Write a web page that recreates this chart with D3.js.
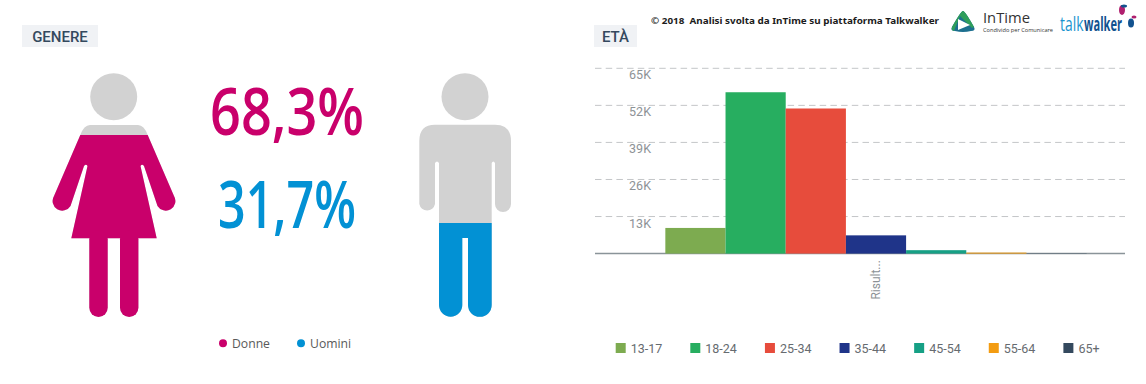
<!DOCTYPE html>
<html>
<head>
<meta charset="utf-8">
<script src="https://cdn.jsdelivr.net/npm/d3@7"></script>
<style>
	html, body { margin:0; padding:0; background:#fff; }
	svg { display:block; }
</style>
</head>
<body>
<div id="chart"></div>
<script>
//data
const genderNames = ["Donne","Uomini"];
const genderValues = [68.3,31.7];
const genderLabels = ["68,3%","31,7%"];
const genderColors = ["#c9006b","#0291d4"];

const ageGroups = ["13-17","18-24","25-34","35-44","45-54","55-64","65+"];
const ageValues = [9000,56600,50900,6400,1200,350,100];
const ageColors = ["#7dab50","#27ae60","#e74c3c","#1f3489","#16a085","#f39c12","#34495e"];
const ageTicks = [13000,26000,39000,52000,65000];
const ageCategory = ["Risult..."];

const width = 1146, height = 384;

const svg = d3.select("#chart")
	.append("svg")
	.attr("width", width)
	.attr("height", height);

const defs = svg.append("defs");

//section titles
function title(x, w, label){
	svg.append("rect").attr("x", x).attr("y", 25).attr("width", w).attr("height", 22).attr("fill", "#f0f2f5");
	svg.append("text")
		.attr("x", x+w/2).attr("y", 41.5)
		.attr("text-anchor", "middle")
		.attr("font-family", "Roboto").attr("font-weight", 500).attr("font-size", 15)
		.attr("fill", "#34495e")
		.text(label);
}
title(22, 76, "GENERE");
title(594, 43, "ETÀ");

//fill level of the two figures
const levelScale = d3.scaleLinear().domain([0,100]).range([299,59]);

function woman(g){
	g.append("circle").attr("cx", 113.7).attr("cy", 96.7).attr("r", 23.5);
	g.append("path").attr("d",
		"M90,125 H138 Q144,125 147.7,135 L174,196 A9.3,9.3 0 0 1 157.5,206 L144,166 Q142,163.5 140.5,166 L156.7,238.3 "
		+"H71.3 L87.5,166 Q86,163.5 84,166 L70.5,206 A9.3,9.3 0 0 1 54,196 L80.3,135 Q84,125 90,125 Z");
	g.append("rect").attr("x", 89.3).attr("y", 230).attr("width", 18.4).attr("height", 87).attr("rx", 9.2);
	g.append("rect").attr("x", 120).attr("y", 230).attr("width", 18.4).attr("height", 87).attr("rx", 9.2);
}

function man(g){
	g.append("circle").attr("cx", 465).attr("cy", 96.7).attr("r", 23.5);
	g.append("path").attr("d",
		"M435,124.7 H495 Q511,124.7 511,141 V204 A8,8 0 0 1 495,204 V163 Q493.2,160 491.7,163 V305 A11.5,11.5 0 0 1 468,305 "
		+"V238 H462.3 V305 A11.5,11.5 0 0 1 439,305 V163 Q437,160 435,163 V204 A8,8 0 0 1 419.3,204 V141 Q419.3,124.7 435,124.7 Z");
}

[woman, man].forEach((shape,i)=>{
	const id = "level-"+i;
	defs.append("clipPath").attr("id", id)
		.append("rect")
		.attr("x", 0).attr("width", 573)
		.attr("y", levelScale(genderValues[i]))
		.attr("height", height-levelScale(genderValues[i]));

	shape(svg.append("g").attr("fill", "#d2d2d2"));
	shape(svg.append("g").attr("fill", genderColors[i]).attr("clip-path", `url(#${id})`));
});

//big percentages
const bigX = [287,287], bigY = [135,228], bigW = [154,138];
genderLabels.forEach((d,i)=>{
	svg.append("text")
		.attr("x", bigX[i]).attr("y", bigY[i])
		.attr("text-anchor", "middle")
		.attr("font-family", "Open Sans").attr("font-weight", 600).attr("font-size", 65)
		.attr("textLength", bigW[i]).attr("lengthAdjust", "spacingAndGlyphs")
		.attr("fill", genderColors[i])
		.text(d);
});

//gender legend
const genderLegendX = [223,301];
genderNames.forEach((d,i)=>{
	svg.append("circle").attr("cx", genderLegendX[i]).attr("cy", 343.3).attr("r", 4).attr("fill", genderColors[i]);
	svg.append("text")
		.attr("x", genderLegendX[i]+9).attr("y", 347.5)
		.attr("font-family", "Open Sans").attr("font-size", 12.2)
		.attr("fill", "#5a5a5a")
		.text(d);
});

//bars
const yScale = d3.scaleLinear().domain([0,65000]).range([253.6,68.3]);

const xCategory = d3.scaleBand()
	.domain(ageCategory)
	.range([627,1125])
	.padding(0.0834);

const xAge = d3.scaleBand()
	.domain(ageGroups)
	.range([0, xCategory.bandwidth()]);

const yAxis = d3.axisLeft(yScale)
	.tickValues(ageTicks)
	.tickSize(0)
	.tickFormat((d)=>{ return d/1000+"K"; });

const yGroup = svg.append("g")
	.attr("class", "axis y_axis")
	.attr("transform", "translate(651,0)")
	.call(yAxis);
yGroup.select(".domain").remove();
yGroup.selectAll("text")
	.attr("x", 0)
	.attr("dy", 10.5)
	.attr("font-family", "Roboto").attr("font-size", 12.5)
	.attr("fill", "#8d9296");

svg.append("g")
	.selectAll("line")
	.data(ageTicks)
	.enter()
	.append("line")
	.attr("x1", 595).attr("x2", 1125)
	.attr("y1", (d)=>{ return yScale(d); })
	.attr("y2", (d)=>{ return yScale(d); })
	.attr("stroke", "#c4c6c8")
	.attr("stroke-dasharray", "6.5,4.2");

//baseline goes under the bars so the tiny ones still show
svg.append("line")
	.attr("x1", 595).attr("x2", 1125)
	.attr("y1", yScale(0)).attr("y2", yScale(0))
	.attr("stroke", "#8a9499").attr("stroke-width", 1.5);

svg.append("g")
	.attr("transform", `translate(${xCategory(ageCategory[0])},0)`)
	.selectAll("rect")
	.data(ageGroups)
	.enter()
	.append("rect")
	.attr("x", (d)=>{ return xAge(d); })
	.attr("y", (d,i)=>{ return yScale(ageValues[i]); })
	.attr("width", xAge.bandwidth())
	.attr("height", (d,i)=>{ return yScale(0)-yScale(ageValues[i]); })
	.attr("fill", (d,i)=>{ return ageColors[i]; });

const xAxis = d3.axisBottom(xCategory).tickSize(0);
const xGroup = svg.append("g")
	.attr("class", "axis x_axis")
	.attr("transform", `translate(0,${yScale(0)})`)
	.call(xAxis);
xGroup.select(".domain").remove();
xGroup.selectAll("text")
	.attr("transform", "rotate(-90)")
	.attr("x", -46)
	.attr("y", 0)
	.attr("dy", "0.32em")
	.attr("text-anchor", "start")
	.attr("font-family", "Roboto").attr("font-size", 12)
	.attr("fill", "#8d9296");

//age legend
const ageLegend = d3.scaleBand().domain(ageGroups).range([615.7,1138]);
ageGroups.forEach((d,i)=>{
	const x = ageLegend(d);
	svg.append("rect").attr("x", x).attr("y", 343).attr("width", 10).attr("height", 10).attr("fill", ageColors[i]);
	svg.append("text")
		.attr("x", x+15).attr("y", 352.5)
		.attr("font-family", "Roboto").attr("font-size", 12.5)
		.attr("fill", "#666b70")
		.text(d);
});

//header
svg.append("text")
	.attr("x", 651).attr("y", 24)
	.attr("font-family", "Noto Sans").attr("font-weight", 700).attr("font-size", 9.5)
	.attr("textLength", 288).attr("lengthAdjust", "spacingAndGlyphs")
	.attr("fill", "#1c1c1c")
	.attr("xml:space", "preserve")
	.text("© 2018  Analisi svolta da InTime su piattaforma Talkwalker");

//intime logo
svg.append("path").attr("d", "M963,11 Q965,11 974,27 Q976,31 971,31 Q963,33 955,31 Q950,31 952,27 Q961,11 963,11 Z").attr("fill", "#1c6f8f");
svg.append("path").attr("d", "M963,11 Q961,11 952,27 Q951,30 954,31 L960,16 L972,28 L974,27 Q965,11 963,11 Z").attr("fill", "#2f9e5b");
svg.append("path").attr("d", "M958,19 L970,25 L958,30 Z").attr("fill", "#fff");
svg.append("text").attr("x", 983).attr("y", 22.7)
	.attr("font-family", "Open Sans").attr("font-size", 15).attr("fill", "#333")
	.attr("textLength", 47).attr("lengthAdjust", "spacingAndGlyphs")
	.text("InTime");
svg.append("text").attr("x", 983).attr("y", 32)
	.attr("font-family", "Open Sans").attr("font-size", 5.6).attr("fill", "#333")
	.attr("textLength", 70).attr("lengthAdjust", "spacingAndGlyphs")
	.text("Condivido per Comunicare");

//talkwalker logo, squeezed with a transform so the boxes stay side by side
function brand(x, w, weight, color, label){
	const t = svg.append("text")
		.attr("font-family", "Open Sans").attr("font-weight", weight).attr("font-size", 20)
		.attr("fill", color)
		.text(label);
	const k = w/t.node().getComputedTextLength();
	t.attr("transform", `translate(${x},30.6) scale(${k},1)`);
}
brand(1060, 23.5, 400, "#1a94cf", "talk");
brand(1084, 38, 700, "#12528f", "walker");

svg.append("ellipse").attr("cx", 1122).attr("cy", 10).attr("rx", 3).attr("ry", 5).attr("fill", "#b0206f");
svg.append("ellipse").attr("cx", 1124).attr("cy", 6).attr("rx", 3).attr("ry", 1.5).attr("fill", "#12528f");
svg.append("ellipse").attr("cx", 1131).attr("cy", 23).attr("rx", 3).attr("ry", 4.5).attr("fill", "#12528f");
svg.append("ellipse").attr("cx", 1134).attr("cy", 17).attr("rx", 2.5).attr("ry", 1.5).attr("fill", "#b0206f");
</script>
</body>
</html>
